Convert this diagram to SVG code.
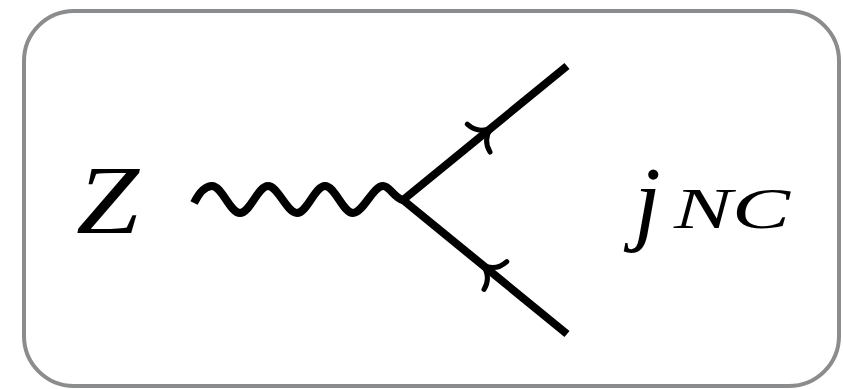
<svg xmlns="http://www.w3.org/2000/svg" width="843" height="389" viewBox="0 0 843 389">
<style>
.frame{fill:#fff;stroke:#8a8c8e;stroke-width:4}
.prop{fill:none;stroke:#000;stroke-width:8}
.arr{fill:none;stroke:#000;stroke-width:5;stroke-linecap:round;stroke-linejoin:round}
.lbl{font-family:"Liberation Serif","DejaVu Serif",serif;font-style:italic;fill:#000}
</style>
<defs>
<path id="ah" class="arr" d="M-16,-18 Q-14,-4 0,0 Q-14,4 -16,18"/>
</defs>
<rect class="frame" x="24" y="11" width="815" height="375" rx="50" ry="50"/>
<g id="Z">
<text class="lbl" x="76" y="233" font-size="97" textLength="63" lengthAdjust="spacingAndGlyphs">Z</text>
</g>
<g id="jNC">
<text class="lbl" x="634" y="233" font-size="96">j</text>
<text class="lbl" x="674" y="228" font-size="57" textLength="116" lengthAdjust="spacingAndGlyphs">NC</text>
</g>
<g id="connectors">
<path class="prop" d="M194,203 C199,193 205,186 212,186 C222,186 230,213 240,213 C250,213 258,186 268,186 C278,186 287,213 297,213 C307,213 315,186 325,186 C335,186 343,213 353,213 C363,213 373,186 383,186 C390,186 394,198 403,200"/>
<path class="prop" d="M403,200 L567,66"/>
<path class="prop" d="M403,200 L567,334"/>
<use href="#ah" transform="translate(491,128) rotate(-39.25)"/>
<use href="#ah" transform="translate(483,265.4) rotate(-140.75)"/>
</g>
</svg>
